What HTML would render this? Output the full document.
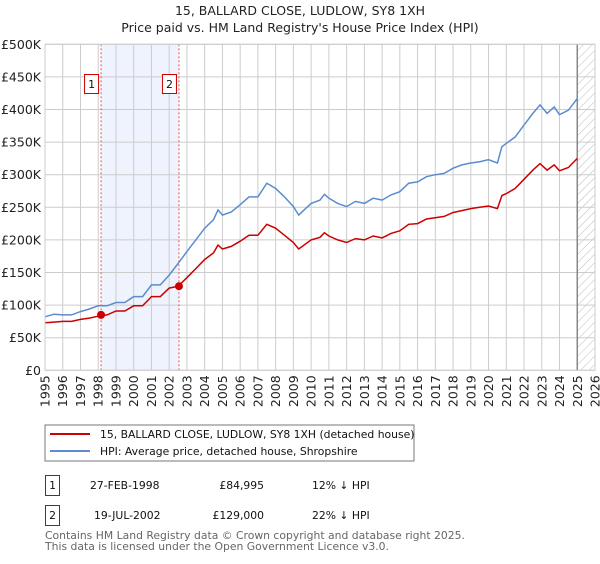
<!DOCTYPE html>
<html><head><meta charset="utf-8"><style>
body{margin:0;background:#fff;font-family:"DejaVu Sans","Liberation Sans",sans-serif;}
svg text{font-family:"DejaVu Sans","Liberation Sans",sans-serif;}
</style></head><body>
<svg id="chart" width="600" height="560" viewBox="0 0 600 560" xmlns="http://www.w3.org/2000/svg">
<defs><pattern id="hatch" width="6" height="6" patternUnits="userSpaceOnUse" patternTransform="rotate(45)"><line x1="0" y1="0" x2="0" y2="6" stroke="#bbb" stroke-width="1"/></pattern></defs>
<text x="300" y="15" text-anchor="middle" font-size="12.5" fill="#222">15, BALLARD CLOSE, LUDLOW, SY8 1XH</text>
<text x="300" y="32" text-anchor="middle" font-size="12.5" fill="#222">Price paid vs. HM Land Registry's House Price Index (HPI)</text>
<g id="plot"></g>
<rect x="45" y="425" width="369" height="36" fill="#fff" stroke="#777"/>
<line x1="50" y1="434" x2="90" y2="434" stroke="#cc0000" stroke-width="2"/>
<text x="100" y="438" font-size="10.8" fill="#111">15, BALLARD CLOSE, LUDLOW, SY8 1XH (detached house)</text>
<line x1="50" y1="451" x2="90" y2="451" stroke="#5b8ccf" stroke-width="2"/>
<text x="100" y="455" font-size="10.8" fill="#111">HPI: Average price, detached house, Shropshire</text>
<g>
<rect x="45.5" y="475.5" width="14" height="20" fill="#fff" stroke="#cc0000"/>
<text x="52.5" y="489" text-anchor="middle" font-size="10.8" fill="#111">1</text>
<text x="90" y="489" font-size="10.8" fill="#111">27-FEB-1998</text>
<text x="264" y="489" text-anchor="end" font-size="10.8" fill="#111">£84,995</text>
<text x="312" y="489" font-size="10.8" fill="#111">12% ↓ HPI</text></g>
<g>
<rect x="45.5" y="505.5" width="14" height="20" fill="#fff" stroke="#cc0000"/>
<text x="52.5" y="519" text-anchor="middle" font-size="10.8" fill="#111">2</text>
<text x="94" y="519" font-size="10.8" fill="#111">19-JUL-2002</text>
<text x="264" y="519" text-anchor="end" font-size="10.8" fill="#111">£129,000</text>
<text x="312" y="519" font-size="10.8" fill="#111">22% ↓ HPI</text></g>
<text x="45" y="539" font-size="10.8" fill="#666">Contains HM Land Registry data © Crown copyright and database right 2025.</text>
<text x="45" y="550" font-size="10.8" fill="#666">This data is licensed under the Open Government Licence v3.0.</text>
</svg>
<script>
const years=[1995,1995.5,1996,1996.5,1997,1997.5,1998,1998.5,1999,1999.5,2000,2000.5,2001,2001.5,2002,2002.5,2003,2003.5,2004,2004.5,2004.75,2005,2005.5,2006,2006.5,2007,2007.5,2008,2008.5,2009,2009.3,2010,2010.5,2010.75,2011,2011.5,2012,2012.5,2013,2013.5,2014,2014.5,2015,2015.5,2016,2016.5,2017,2017.5,2018,2018.5,2019,2019.5,2020,2020.5,2020.75,2021,2021.5,2022,2022.5,2022.9,2023.3,2023.7,2024,2024.5,2025];
const hpi=[82,86,85,85,90,94,99,99,104,104,113,113,131,131,146,164,182,200,218,231,246,238,243,254,266,266,287,279,266,251,238,256,261,270,264,256,251,259,256,264,261,269,274,287,289,297,300,302,310,315,318,320,323,318,343,348,358,376,394,407,394,404,392,399,417];
const prop=[73,74,75,75,78,80,83,85,91,91,99,99,113,113,126,129,142,156,170,180,192,186,190,198,207,207,224,218,207,196,186,200,204,211,206,200,196,202,200,206,203,210,214,224,225,232,234,236,242,245,248,250,252,248,268,271,279,293,307,317,307,315,306,311,325];
const saleYears=[1998.16,2002.55];
const salePrices=[85.0,129.0];
const saleLabels=["1","2"];
const yTicks=[0,50,100,150,200,250,300,350,400,450,500];
const xTicks=[];for(let y=1995;y<=2026;y++)xTicks.push(y);
const X0=45,X1=595,Y0=370.3,Y1=44.3;
const sx=y=>X0+(y-1995)/31*(X1-X0);
const sy=v=>Y0-v/500*(Y0-Y1);
const NS="http://www.w3.org/2000/svg";
const g=document.getElementById('plot');
function el(t,a){const e=document.createElementNS(NS,t);for(const k in a)e.setAttribute(k,a[k]);g.appendChild(e);return e;}
let r=el('rect',{x:X0,y:Y1,width:X1-X0,height:Y0-Y1,fill:'#fff'});


r=el('rect',{x:sx(saleYears[0]),y:Y1,width:sx(saleYears[1])-sx(saleYears[0]),height:Y0-Y1,fill:'#eef3fd'});


r=el('rect',{x:sx(2025),y:Y1,width:X1-sx(2025),height:Y0-Y1,fill:'url(#hatch)'});


yTicks.forEach(v=>{const l=el('line',{x1:X0,x2:X1,y1:sy(v),y2:sy(v),stroke:'#ccc'});


const t=el('text',{x:X0-4,y:sy(v)+4.5,'text-anchor':'end','font-size':'12.5',fill:'#222'});t.textContent=v===0?'£0':'£'+v+'K';

});
xTicks.forEach(y=>{const l=el('line',{x1:sx(y),x2:sx(y),y1:Y1,y2:Y0,stroke:'#ccc'});


const t=el('text',{x:0,y:0,'text-anchor':'end','font-size':'12.5',fill:'#222',transform:`translate(${sx(y)+4.5},${Y0+5}) rotate(-90)`});t.textContent=y;

});
let l=el('line',{x1:sx(2025),x2:sx(2025),y1:Y1,y2:Y0,stroke:'#888','stroke-width':1.5});


saleYears.forEach((y,i)=>{const v=el('line',{x1:sx(y),x2:sx(y),y1:Y1,y2:Y0,stroke:'#e55','stroke-dasharray':'2,2'});

});
const path=(arr)=>arr.map((v,i)=>(i?'L':'M')+sx(years[i]).toFixed(1)+','+sy(v).toFixed(1)).join('');
let p=el('path',{d:path(hpi),fill:'none',stroke:'#5b8ccf','stroke-width':1.5});


p=el('path',{d:path(prop),fill:'none',stroke:'#cc0000','stroke-width':1.5});


saleYears.forEach((y,i)=>{const c=el('circle',{cx:sx(y),cy:sy(salePrices[i]),r:4,fill:'#cc0000'});


const b=el('rect',{x:sx(y)-16.5,y:74.5,width:14,height:19,fill:'#fff',stroke:'#cc0000'});


const t=el('text',{x:sx(y)-9.5,y:88,'text-anchor':'middle','font-size':'11',fill:'#111'});t.textContent=saleLabels[i];

});
r=el('rect',{x:X0,y:Y1,width:X1-X0,height:Y0-Y1,fill:'none',stroke:'#ccc'});


</script>
</body></html>
